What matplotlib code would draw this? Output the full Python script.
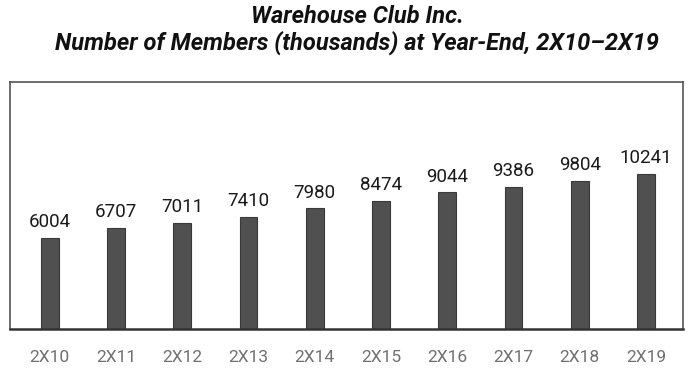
import matplotlib.pyplot as plt
import numpy as np

years = ['2X10', '2X11', '2X12', '2X13', '2X14', '2X15', '2X16', '2X17', '2X18', '2X19']
members = [6004, 6707, 7011, 7410, 7980, 8474, 9044, 9386, 9804, 10241]

plt.rcParams['font.family'] = ['Roboto', 'DejaVu Sans']

fig = plt.figure(figsize=(6.96, 3.83), dpi=100)
ax = fig.add_axes([0.0144, 0.141, 0.967, 0.645])

x = np.arange(len(years))
ax.bar(x, members, width=0.27, color='#505050', edgecolor='#3a3a3a', linewidth=0.8)

# value labels on top of bars
for xi, v in zip(x, members):
    ax.text(xi, v + 450, str(v), ha='center', va='bottom', fontsize=13.5, color='#1a1a1a')

ax.set_xlim(-0.6, 9.56)
ax.set_ylim(0, 16350)
ax.set_yticks([])
ax.set_xticks(x)
ax.set_xticklabels(years, fontsize=12.5, color='#707070')
ax.tick_params(axis='x', length=0, pad=15)

for s in ax.spines.values():
    s.set_color('#555555')
    s.set_linewidth(1.2)
ax.spines['bottom'].set_color('#333333')
ax.spines['bottom'].set_linewidth(1.8)

fig.text(0.513, 0.958, 'Warehouse Club Inc.', ha='center', va='center',
         fontsize=17, fontweight='bold', fontstyle='italic', color='#111111')
fig.text(0.513, 0.888, 'Number of Members (thousands) at Year-End, 2X10\u20132X19', ha='center', va='center',
         fontsize=17, fontweight='bold', fontstyle='italic', color='#111111')

plt.savefig('out.png', dpi=100)
